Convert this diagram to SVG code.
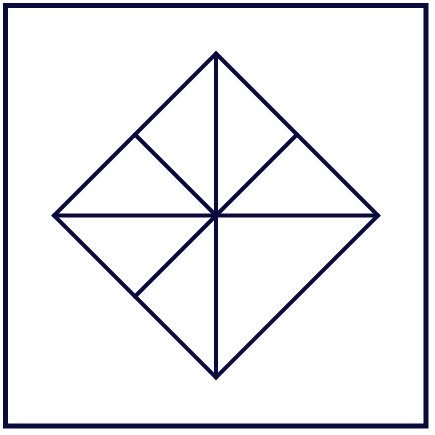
<svg xmlns="http://www.w3.org/2000/svg" width="435" height="435" viewBox="0 0 435 435">
<style>.l{stroke:#0b0a3c;stroke-width:4;fill:none;stroke-linejoin:miter;stroke-linecap:round}</style>
<rect x="0" y="0" width="435" height="435" fill="#fff"/>
<g id="frame"><rect class="l" x="5.5" y="5.5" width="420.5" height="420.5" style="stroke-width:5"/></g>
<g id="diamond"><polygon class="l" points="216,53.5 378,215.5 216,377.5 54,215.5"/></g>
<g id="connectors">
<line class="l" x1="216" y1="53.5" x2="216" y2="377.5"/>
<line class="l" x1="54" y1="215.5" x2="378" y2="215.5"/>
<line class="l" x1="135" y1="134.5" x2="216" y2="215.5"/>
<line class="l" x1="297" y1="134.5" x2="216" y2="215.5"/>
<line class="l" x1="135" y1="296.5" x2="216" y2="215.5"/>
</g>
</svg>
